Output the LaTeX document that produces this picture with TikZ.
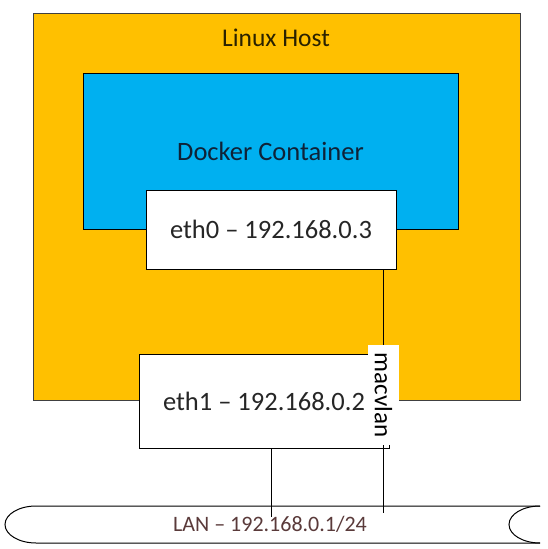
\documentclass[tikz,border=0pt]{standalone}
\usepackage{fontspec}
\setmainfont{Carlito}
\definecolor{hostfill}{HTML}{FFC000}
\definecolor{dockfill}{HTML}{00B0F0}
\definecolor{lantext}{HTML}{5A3A3A}
\definecolor{boxtext}{HTML}{262626}
\definecolor{hosttext}{HTML}{2A2200}
\definecolor{docktext}{HTML}{0F2237}
\begin{document}
\begin{tikzpicture}[x=1pt,y=-1pt,
  box/.style={draw=black, line width=1pt, inner sep=0pt, anchor=center},
  bigtext/.style={font=\fontsize{26.5}{30}\selectfont},
  wire/.style={draw=black, line width=1pt}]
\useasboundingbox (0,0) rectangle (547,549);
% Linux host
\node[box, draw=black!75, fill=hostfill, minimum width=487pt, minimum height=387pt] (host) at (276.5,206.5) {};
\node[inner sep=0pt, text=hosttext, font=\fontsize{25.5}{29}\selectfont] (hostlabel) at (276,38) {Linux Host};
% Docker container
\node[box, fill=dockfill, minimum width=375pt, minimum height=156pt, bigtext, text=docktext] (docker) at (270.5,151) {Docker Container};
% eth0
\node[box, fill=white, minimum width=250pt, minimum height=79pt, bigtext, text=boxtext] (eth0) at (271,229.5) {eth0 -- 192.168.0.3};
% eth1
\node[box, fill=white, minimum width=250pt, minimum height=94pt, bigtext, text=boxtext] (eth1) at (264,401) {eth1 -- 192.168.0.2};
% LAN pipe
\draw[line width=1pt, fill=white] (540,506) -- (36,506) arc (270:90:31 and 18.5) -- (540,543);
\draw[line width=1pt] (540,506) arc (270:90:31 and 18.5);
\node[inner sep=0pt, text=lantext, font=\fontsize{22}{26}\selectfont] (lanlabel) at (270,524) {LAN -- 192.168.0.1/24};
% connectors
\coordinate (lanA) at (271,517);
\coordinate (lanB) at (383,513);
\draw[wire] (lanA |- eth1.south) -- (lanA);
\draw[wire] (lanB |- eth0.south) -- (lanB);
% macvlan label
\node[fill=white, inner sep=0pt, minimum width=100pt, minimum height=31pt, rotate=-90, font=\fontsize{25}{29}\selectfont, text=black] (mac) at (383.5,395) {macvlan};
\end{tikzpicture}
\end{document}
